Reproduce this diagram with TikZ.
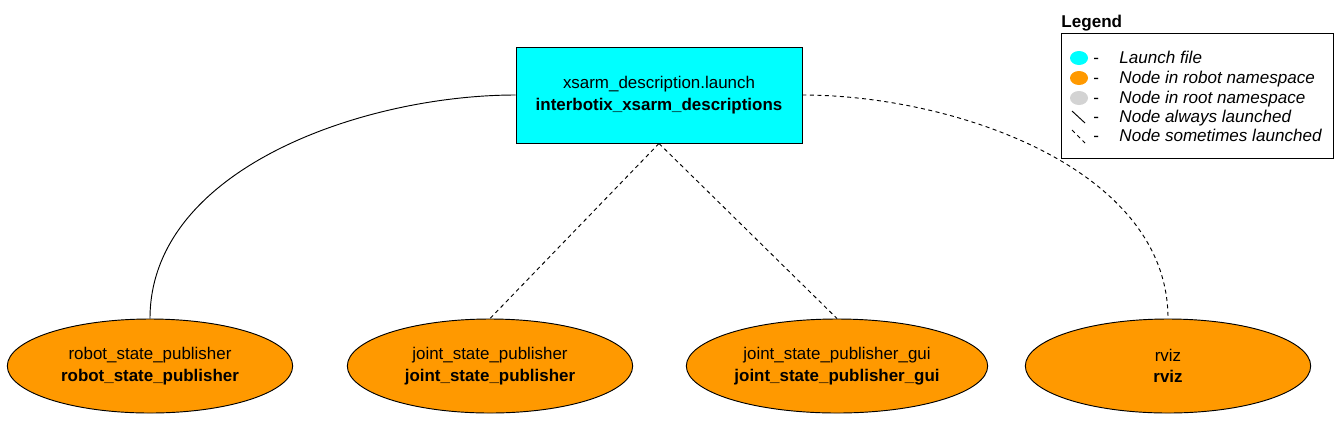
\documentclass[tikz,border=0pt]{standalone}
\usepackage{fontspec}
\setmainfont{Liberation Sans}
\usetikzlibrary{shapes.geometric, positioning}

\definecolor{launchcyan}{HTML}{00FFFF}
\definecolor{robotorange}{HTML}{FF9900}
\definecolor{rootgray}{HTML}{D3D3D3}

\tikzset{
  launchfile/.style={draw, fill=launchcyan, rectangle, minimum width=214.5pt, minimum height=72pt, align=center, inner sep=0pt},
  rosnode/.style={draw, fill=robotorange, ellipse, minimum width=214pt, minimum height=70.5pt, align=center, inner sep=0pt},
  sometimes/.style={dash pattern=on 3pt off 2.6pt},
  legendmark/.style={ellipse, minimum width=13.5pt, minimum height=10.5pt, inner sep=0pt},
  legendtext/.style={anchor=base west, inner sep=0pt, font=\fontsize{12.8}{15}\selectfont\itshape}
}

\begin{document}
\begin{tikzpicture}[x=0.75pt,y=-0.75pt,line width=0.7pt,font=\fontsize{12.7}{16}\selectfont]
    \useasboundingbox (0,0) rectangle (1341,430);
    \node[launchfile]                    (launch) at (659,95)   {xsarm\_description.launch\\\textbf{interbotix\_xsarm\_descriptions}};
    \node[rosnode]                       (rsp)    at (150,366)  {robot\_state\_publisher\\\textbf{robot\_state\_publisher}};
    \node[rosnode]                       (jsp)    at (490,366)  {joint\_state\_publisher\\\textbf{joint\_state\_publisher}};
    \node[rosnode, minimum width=226pt]  (jspg)   at (837,366)  {joint\_state\_publisher\_gui\\\textbf{joint\_state\_publisher\_gui}};
    \node[rosnode]                       (rviz)   at (1168,366) {rviz\\\textbf{rviz}};
    \path (launch.west)  edge [out=180, in=90, looseness=0.9]          (rsp.north);
    \path (launch.south) edge [sometimes]                               (jsp.north);
    \path (launch.south) edge [sometimes]                               (jspg.north);
    \path (launch.east)  edge [sometimes, out=0, in=90, looseness=0.9] (rviz.north);
    % legend
    \node[anchor=base west, inner sep=0pt, font=\fontsize{12.8}{15}\selectfont\bfseries] (leg) at (1061,27) {Legend};
    \draw (1061,33) rectangle (1333,158);
    \node[legendmark, fill=launchcyan]  (m1) at (1079,58)  {};
    \node[legendmark, fill=robotorange] (m2) at (1079,78)  {};
    \node[legendmark, fill=rootgray]    (m3) at (1079,98)  {};
    \coordinate (s1) at (1072,111);
    \coordinate (s2) at (1085,123);
    \coordinate (d1) at (1072,130);
    \coordinate (d2) at (1085,143);
    \draw (s1) -- (s2);
    \draw[sometimes] (d1) -- (d2);
    \foreach \y/\t in {63/Launch file, 83/Node in robot namespace, 103/Node in root namespace, 122/Node always launched, 141/Node sometimes launched} {
        \node[anchor=base west, inner sep=0pt, font=\fontsize{12.8}{15}\selectfont] at (1093,\y) {-};
        \node[legendtext] at (1119,\y) {\t};
    }
\end{tikzpicture}
\end{document}
